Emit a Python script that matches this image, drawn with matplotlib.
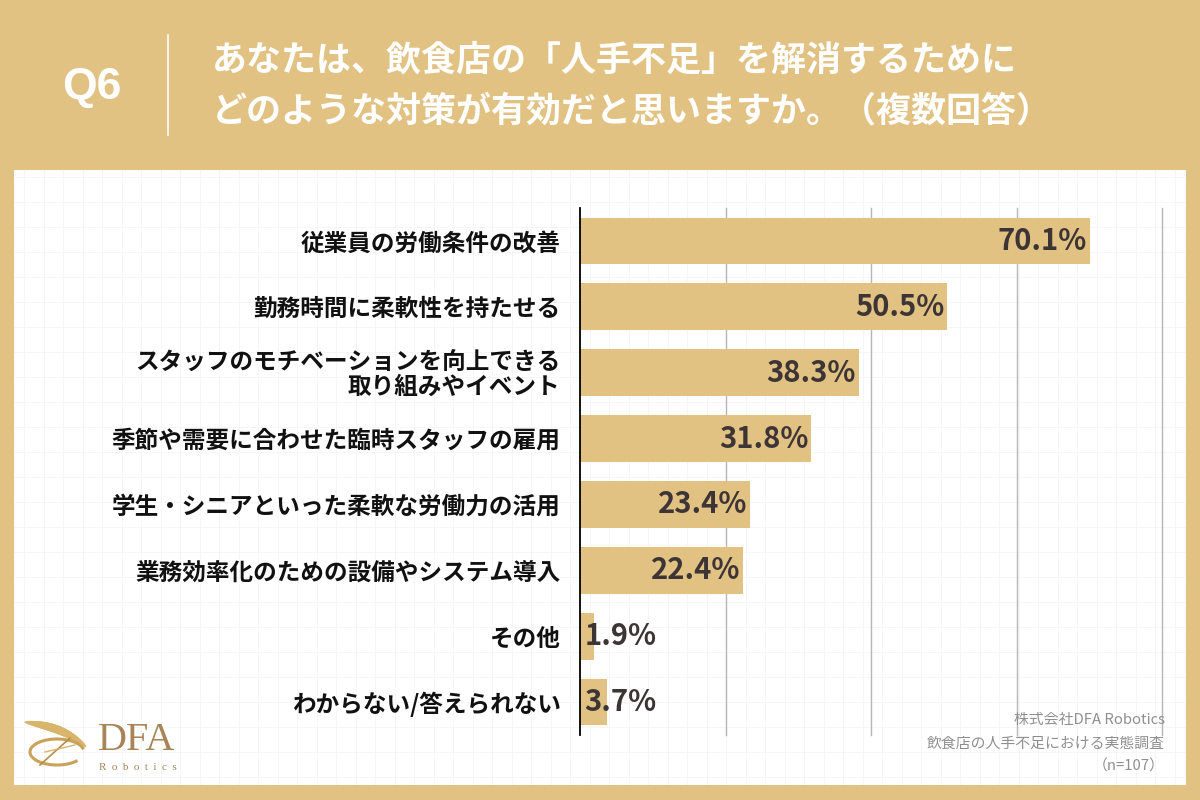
import matplotlib
matplotlib.use("Agg")
import matplotlib.pyplot as plt
from matplotlib.patches import Rectangle
import numpy as np

plt.rcParams['font.family'] = ['Noto Sans CJK JP', 'DejaVu Sans']

# データ
categories = [
    '従業員の労働条件の改善',
    '勤務時間に柔軟性を持たせる',
    'スタッフのモチベーションを向上できる\n取り組みやイベント',
    '季節や需要に合わせた臨時スタッフの雇用',
    '学生・シニアといった柔軟な労働力の活用',
    '業務効率化のための設備やシステム導入',
    'その他',
    'わからない/答えられない',
]
values = [70.1, 50.5, 38.3, 31.8, 23.4, 22.4, 1.9, 3.7]
xticks = [0, 20, 40, 60, 80]

title_lines = ['あなたは、飲食店の「人手不足」を解消するために',
               'どのような対策が有効だと思いますか。（複数回答）']
footer = ['株式会社DFA Robotics', '飲食店の人手不足における実態調査', '（n=107）']

gold = '#E1C283'
W, H = 1200, 800

fig = plt.figure(figsize=(12, 8), dpi=100)
fig.patch.set_facecolor(gold)

def px(x, y):
    return x / W, 1 - y / H

# 白いパネル
panel = Rectangle(px(14, 785), (1186 - 14) / W, (785 - 170) / H,
                  transform=fig.transFigure, facecolor='white', edgecolor='none', zorder=0)
fig.patches.append(panel)

# 方眼の背景
bg = fig.add_axes([14 / W, 1 - 785 / H, (1186 - 14) / W, (785 - 170) / H], zorder=0.5)
bg.set_xlim(14, 1186)
bg.set_ylim(785, 170)
for gx in np.arange(24, 1186, 19.5):
    bg.axvline(gx, color='#f6f6f6', lw=0.7)
for gy in np.arange(177, 785, 25):
    bg.axhline(gy, color='#f6f6f6', lw=0.7)
bg.axis('off')

# ヘッダー
fig.text(*px(92, 88), 'Q6', color='white', fontsize=32, fontweight='bold',
         ha='center', va='center', family=['Liberation Sans'])
fig.add_artist(plt.Line2D([168 / W, 168 / W], [1 - 35 / H, 1 - 135 / H],
                          transform=fig.transFigure, color='white', lw=1.2))
fig.text(*px(212, 60), title_lines[0], color='white', fontsize=25.2,
         fontweight='bold', ha='left', va='center')
fig.text(*px(212, 111), title_lines[1], color='white', fontsize=25.2,
         fontweight='bold', ha='left', va='center')

# 棒グラフ
ax = fig.add_axes([580 / W, 1 - 735 / H, (1162 - 580) / W, (735 - 208) / H], zorder=1)
ax.patch.set_alpha(0)
y = np.arange(len(categories))
ax.barh(y, values, height=0.71, color=gold, zorder=2)
ax.set_xlim(0, 80)
ax.set_ylim(len(categories) - 0.5, -0.5)
for xt in xticks[1:]:
    ax.axvline(xt, color='#b5b5b5', lw=1, zorder=1, clip_on=False)
ax.set_xticks([])
ax.tick_params(axis='y', length=0, pad=14)
ax.set_yticks(y)
ax.set_yticklabels(categories, fontsize=17, fontweight='bold', color='#111111',
                   linespacing=1.0)
for s in ['top', 'right', 'bottom']:
    ax.spines[s].set_visible(False)
ax.spines['left'].set_color('black')
ax.spines['left'].set_linewidth(1.3)

for i, v in enumerate(values):
    if v > 10:
        ax.text(v - 0.4, i, f'{v}%', ha='right', va='center', fontsize=21,
                color='#3d3535', fontweight='bold', zorder=3)
    else:
        ax.text(0.6, i, f'{v}%', ha='left', va='center', fontsize=21,
                color='#3d3535', fontweight='bold', zorder=3)

# 出典
for k, line in enumerate(footer):
    fig.text(*px(1165, 720 + k * 23.5), line, color='#8f8f8f', fontsize=10.7,
             ha='right', va='center')

# ロゴ
lg = fig.add_axes([0, 0, 1, 1], zorder=2)
lg.set_xlim(0, W)
lg.set_ylim(H, 0)
lg.axis('off')
s = np.linspace(0, 1, 40)
bx = 25 + 60 * s
by = 722 + 10 * s + 14 * s ** 3
for k in range(len(s) - 1):
    lg.plot(bx[k:k + 2], by[k:k + 2], color='#d9b56c', lw=1 + 5 * np.sin(np.pi * s[k]) ** 0.7,
            solid_capstyle='round')
t = np.linspace(0.1 * np.pi, 1.75 * np.pi, 120)
lg.plot(57 + 27 * np.cos(t), 752 - 13 * np.sin(t), color='#c9a25a', lw=2.2)
lg.plot([40, 70], [765, 738], color='#b88d45', lw=1.2)
lg.plot([45, 75], [752, 745], color='#d9b56c', lw=1.0)
fig.text(*px(137, 740), 'DFA', color='#a88458', fontsize=29, ha='center', va='center',
         family=['Liberation Serif'])
fig.text(*px(138, 768), 'R  o  b  o  t  i  c  s', color='#a88458', fontsize=8, ha='center',
         va='center', family=['Liberation Serif'])

fig.savefig('out.png', dpi=100, facecolor=fig.get_facecolor())
